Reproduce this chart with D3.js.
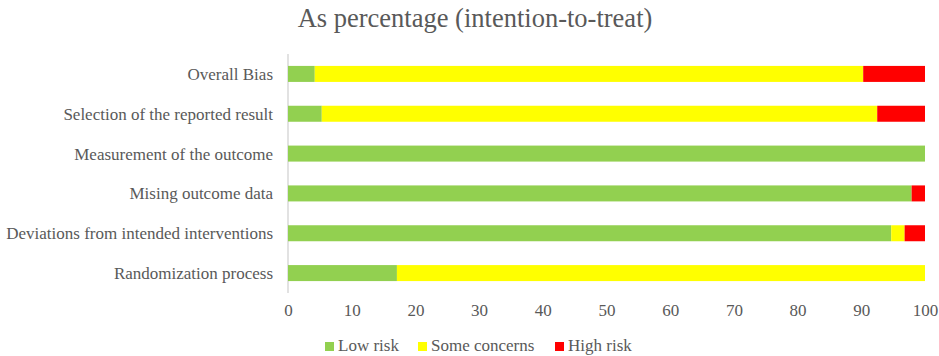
<!DOCTYPE html>
<html><head><meta charset="utf-8">
<script src="https://cdn.jsdelivr.net/npm/d3@7"></script>
<style>body{margin:0;background:#fff}svg{display:block}</style>
</head><body>
<script>
const categories = ["Overall Bias","Selection of the reported result","Measurement of the outcome","Mising outcome data","Deviations from intended interventions","Randomization process"];
const lowRisk = [4.2, 5.3, 100, 97.9, 94.7, 17.1];
const someConcerns = [86.1, 87.2, 0, 0, 2.1, 82.9];
const highRisk = [9.7, 7.5, 0, 2.1, 3.2, 0];
const seriesNames = ["Low risk","Some concerns","High risk"];
const colors = ["#92D050","#FFFF00","#FF0000"];
const xTicks = [0,10,20,30,40,50,60,70,80,90,100];

const W = 939, H = 356;
const svg = d3.select("body").append("svg").attr("width", W).attr("height", H);
const font = "'Liberation Serif','Times New Roman',serif";
const textColor = "#595959";

svg.append("text").attr("x", 475).attr("y", 27).attr("text-anchor","middle")
  .attr("font-family", font).attr("font-size", 26.5).attr("fill", textColor)
  .text("As percentage (intention-to-treat)");

const x = d3.scaleLinear().domain([0,100]).range([288, 925]);
const y = d3.scaleBand().domain(categories).range([54, 293]).paddingInner(0.6).paddingOuter(0.3);

const table = categories.map((c,i)=>({cat:c, "Low risk":lowRisk[i], "Some concerns":someConcerns[i], "High risk":highRisk[i]}));
const stack = d3.stack().keys(seriesNames)(table);

svg.append("line").attr("x1", x(0)).attr("x2", x(0)).attr("y1", 54).attr("y2", 293)
  .attr("stroke", "#d9d9d9").attr("stroke-width", 1.5);

const bandC = y.bandwidth();
stack.forEach((s, si) => {
  svg.append("g").selectAll("rect").data(s).join("rect")
    .attr("x", d => x(d[0]))
    .attr("width", d => Math.max(0, x(d[1]) - x(d[0])))
    .attr("y", d => y(d.data.cat) + bandC/2 - 8)
    .attr("height", 16)
    .attr("fill", colors[si]);
});

svg.append("g").selectAll("text").data(categories).join("text")
  .attr("x", 273).attr("y", d => y(d) + bandC/2).attr("dy", "0.35em")
  .attr("text-anchor", "end").attr("font-family", font).attr("font-size", 17)
  .attr("fill", textColor).text(d => d);

const xAxis = d3.axisBottom(x).tickValues(xTicks).tickSize(0).tickPadding(0);
const gx = svg.append("g").attr("transform", "translate(0,304)").call(xAxis);
gx.select(".domain").remove();
gx.selectAll("text").attr("font-family", font).attr("font-size", 17).attr("fill", textColor).attr("dy","0.71em");

const legendX = [325, 418, 555];
const lg = svg.append("g");
seriesNames.forEach((n, i) => {
  lg.append("rect").attr("x", legendX[i]).attr("y", 342).attr("width", 9).attr("height", 9).attr("fill", colors[i]);
  lg.append("text").attr("x", legendX[i] + 13).attr("y", 351).attr("font-family", font).attr("font-size", 17)
    .attr("fill", textColor).text(n);
});
</script>
</body></html>
